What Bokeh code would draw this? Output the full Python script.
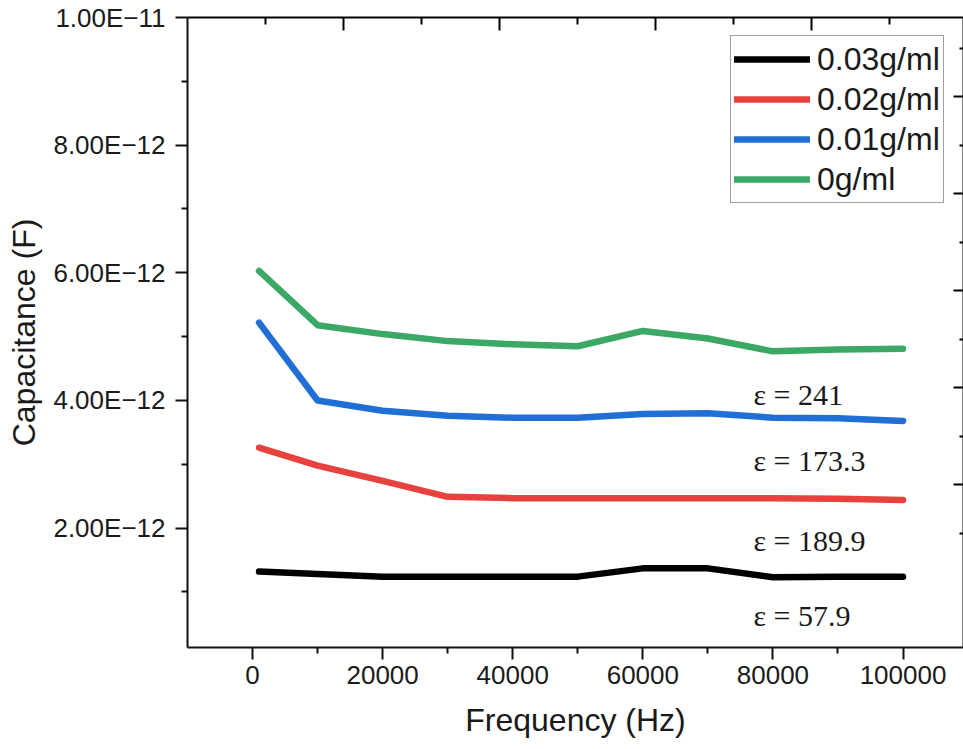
from bokeh.plotting import figure
from bokeh.models import (Range1d, LinearAxis, FixedTicker, CustomJSTickFormatter,
                          NumeralTickFormatter, Legend, LegendItem, Label)
from bokeh.embed import file_html
from bokeh.resources import INLINE

# ---- data ----
freq = [1000, 10000, 20000, 30000, 40000, 50000, 60000, 70000, 80000, 90000, 100000]
cap_003 = [1.32e-12, 1.28e-12, 1.24e-12, 1.24e-12, 1.24e-12, 1.24e-12, 1.37e-12, 1.37e-12, 1.23e-12, 1.24e-12, 1.24e-12]
cap_002 = [3.26e-12, 2.98e-12, 2.74e-12, 2.49e-12, 2.47e-12, 2.47e-12, 2.47e-12, 2.47e-12, 2.47e-12, 2.46e-12, 2.44e-12]
cap_001 = [5.22e-12, 4.00e-12, 3.84e-12, 3.76e-12, 3.73e-12, 3.73e-12, 3.79e-12, 3.80e-12, 3.73e-12, 3.72e-12, 3.68e-12]
cap_000 = [6.03e-12, 5.18e-12, 5.04e-12, 4.93e-12, 4.88e-12, 4.85e-12, 5.09e-12, 4.97e-12, 4.77e-12, 4.80e-12, 4.81e-12]

series_labels = ["0.03g/ml", "0.02g/ml", "0.01g/ml", "0g/ml"]
series_values = [cap_003, cap_002, cap_001, cap_000]
series_colors = ["#000000", "#e8423f", "#1f6fd4", "#3ba866"]

eps_texts = ["ε = 241", "ε = 173.3", "ε = 189.9", "ε = 57.9"]
eps_y = [4.10e-12, 3.06e-12, 1.81e-12, 0.63e-12]
eps_x = 77000

x_major = [0, 20000, 40000, 60000, 80000, 100000]
x_minor = [10000, 30000, 50000, 70000, 90000]
y_major = [2e-12, 4e-12, 6e-12, 8e-12, 1e-11]
y_minor = [1e-12, 3e-12, 5e-12, 7e-12, 9e-12]

FONT = "Liberation Sans"

p = figure(width=963, height=749,
           x_range=Range1d(-10000, 109300), y_range=Range1d(0.13e-12, 1.0e-11),
           output_backend="svg", toolbar_location=None,
           min_border_left=187, min_border_right=0, min_border_top=17, min_border_bottom=102,
           x_axis_label="Frequency (Hz)", y_axis_label="Capacitance (F)")
p.outline_line_color = None
p.xgrid.visible = False
p.ygrid.visible = False
p.background_fill_color = "white"
p.border_fill_color = "white"

for ax in (p.xaxis[0], p.yaxis[0]):
    ax.axis_line_width = 2
    ax.axis_line_color = "#111111"
    ax.major_tick_line_width = 2
    ax.minor_tick_line_width = 2
    ax.major_tick_line_color = "#111111"
    ax.minor_tick_line_color = "#111111"
    ax.major_tick_in = 0
    ax.major_tick_out = 12
    ax.minor_tick_in = 0
    ax.minor_tick_out = 6
    ax.major_label_text_font = FONT
    ax.major_label_text_font_size = "26px"
    ax.major_label_text_color = "#1a1a1a"
    ax.axis_label_text_font = FONT
    ax.axis_label_text_font_size = "32px"
    ax.axis_label_text_font_style = "normal"
    ax.axis_label_text_color = "#1a1a1a"

p.xaxis.ticker = FixedTicker(ticks=x_major, minor_ticks=x_minor)
p.xaxis.formatter = NumeralTickFormatter(format="0")
p.yaxis.ticker = FixedTicker(ticks=y_major, minor_ticks=y_minor)
p.yaxis.formatter = CustomJSTickFormatter(
    code="return tick.toExponential(2).toUpperCase().replace('E-', 'E−');")
p.xaxis.major_label_standoff = 6
p.yaxis.major_label_standoff = 10
p.xaxis.axis_label_standoff = 15
p.yaxis.axis_label_standoff = 8

# frame-like top and right axes with inward ticks, no labels
blank = CustomJSTickFormatter(code="return '';")
p.extra_x_ranges = {"top": Range1d(0, 9.95)}
p.extra_y_ranges = {"right": Range1d(-0.36, 12.63)}
ax_top = LinearAxis(x_range_name="top",
                    ticker=FixedTicker(ticks=[2, 4, 6, 8], minor_ticks=[1, 3, 5, 7, 9]),
                    formatter=blank, major_label_text_color=None,
                    major_tick_in=13, major_tick_out=0,
                    minor_tick_in=7, minor_tick_out=0, axis_line_width=2,
                    major_tick_line_width=2, minor_tick_line_width=2, major_label_standoff=0)
p.add_layout(ax_top, "above")
ax_right = LinearAxis(y_range_name="right",
                      ticker=FixedTicker(ticks=[3, 5, 7, 9, 11], minor_ticks=[2, 4, 6, 8, 10, 12]),
                      formatter=blank, major_label_text_color=None,
                      major_tick_in=10, major_tick_out=0,
                      minor_tick_in=4, minor_tick_out=0, axis_line_width=2,
                      major_tick_line_width=2, minor_tick_line_width=2, major_label_standoff=0)
p.add_layout(ax_right, "right")

items = []
for lab, vals, col in zip(series_labels, series_values, series_colors):
    r = p.line(freq, vals, line_color=col, line_width=6.5, line_join="round", line_cap="round")
    items.append(LegendItem(label=lab, renderers=[r]))

legend = Legend(items=items, location=(543, 444),
                label_text_font=FONT, label_text_font_size="32px", label_text_color="#1a1a1a",
                glyph_width=76, glyph_height=40, label_height=40, spacing=0, padding=3,
                margin=0, label_standoff=7,
                border_line_color="#444444", border_line_width=1.5,
                background_fill_color="white", background_fill_alpha=1.0)
p.add_layout(legend)

for t, yv in zip(eps_texts, eps_y):
    p.add_layout(Label(x=eps_x, y=yv, text=t, text_font="Liberation Serif",
                       text_font_size="30px", text_color="#1a1a1a",
                       text_baseline="alphabetic", text_align="left"))

open("out.html", "w").write(file_html(p, INLINE))
